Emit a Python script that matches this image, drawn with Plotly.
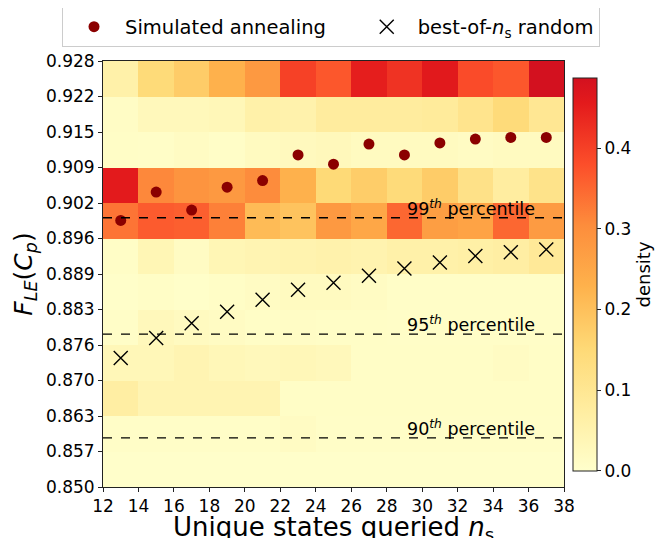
import numpy as np
import plotly.graph_objects as go

# --- data ---
x_edges = [12, 14, 16, 18, 20, 22, 24, 26, 28, 30, 32, 34, 36, 38]
y_edges = [0.850, 0.8565, 0.863, 0.8695, 0.876, 0.8825, 0.889, 0.8955, 0.902, 0.9085, 0.915, 0.9215, 0.928]
y_tick_labels = ["0.850", "0.857", "0.863", "0.870", "0.876", "0.883", "0.889",
                 "0.896", "0.902", "0.909", "0.915", "0.922", "0.928"]
x_ticks = [12, 14, 16, 18, 20, 22, 24, 26, 28, 30, 32, 34, 36, 38]

# density rows, bottom (0.850) to top (0.928), columns 12-14 ... 36-38
density = [
    [0.004, 0.004, 0.004, 0.004, 0.004, 0.004, 0.004, 0.004, 0.004, 0.004, 0.004, 0.004, 0.004],
    [0.008, 0.008, 0.008, 0.008, 0.008, 0.015, 0.008, 0.008, 0.008, 0.008, 0.008, 0.008, 0.008],
    [0.070, 0.045, 0.045, 0.045, 0.045, 0.010, 0.010, 0.010, 0.010, 0.010, 0.010, 0.010, 0.010],
    [0.035, 0.035, 0.045, 0.035, 0.030, 0.035, 0.030, 0.010, 0.010, 0.010, 0.010, 0.015, 0.010],
    [0.008, 0.030, 0.020, 0.015, 0.010, 0.012, 0.010, 0.010, 0.008, 0.008, 0.008, 0.008, 0.008],
    [0.005, 0.010, 0.005, 0.010, 0.015, 0.020, 0.020, 0.015, 0.008, 0.008, 0.008, 0.008, 0.008],
    [0.010, 0.040, 0.015, 0.040, 0.045, 0.050, 0.055, 0.050, 0.060, 0.060, 0.065, 0.070, 0.090],
    [0.335, 0.365, 0.360, 0.320, 0.210, 0.195, 0.280, 0.250, 0.350, 0.270, 0.260, 0.350, 0.275],
    [0.457, 0.310, 0.290, 0.280, 0.305, 0.230, 0.150, 0.175, 0.145, 0.177, 0.120, 0.076, 0.115],
    [0.010, 0.008, 0.015, 0.008, 0.020, 0.025, 0.030, 0.020, 0.020, 0.020, 0.015, 0.020, 0.020],
    [0.012, 0.030, 0.030, 0.035, 0.060, 0.055, 0.080, 0.080, 0.080, 0.085, 0.110, 0.145, 0.100],
    [0.060, 0.146, 0.177, 0.230, 0.280, 0.400, 0.370, 0.450, 0.420, 0.460, 0.385, 0.370, 0.487],
]

n_s = [13, 15, 17, 19, 21, 23, 25, 27, 29, 31, 33, 35, 37]
sim_annealing = [0.8988, 0.9040, 0.9007, 0.9049, 0.9061, 0.9108, 0.9091, 0.9128, 0.9108,
                 0.9130, 0.9137, 0.9140, 0.9140]
best_random = [0.8736, 0.8773, 0.8800, 0.8821, 0.8843, 0.8861, 0.8874, 0.8887, 0.8900,
               0.8911, 0.8923, 0.8930, 0.8935]

percentiles = [0.8993, 0.8780, 0.8590]
percentile_labels = ["99<sup><i>th</i></sup> percentile", "95<sup><i>th</i></sup> percentile",
                     "90<sup><i>th</i></sup> percentile"]

colorbar_ticks = [0.0, 0.1, 0.2, 0.3, 0.4]
zmax = 0.487

# truncated YlOrRd
colorscale = [
    [0.0, "#ffffcc"], [0.156, "#ffeda0"], [0.3125, "#fed976"], [0.469, "#feb24c"],
    [0.625, "#fd8d3c"], [0.781, "#fc4e2a"], [0.9375, "#e31a1c"], [1.0, "#d3111f"],
]

FONT = "DejaVu Sans"
NBSP = "\u00a0"

fig = go.Figure()
fig.add_trace(go.Heatmap(
    x=x_edges, y=y_edges, z=density, zmin=0, zmax=zmax,
    colorscale=colorscale, showscale=True, hoverinfo="skip",
    colorbar=dict(
        x=1.0195, xanchor="left", xref="paper",
        y=0.499, yanchor="middle", len=393, lenmode="pixels",
        thickness=24, thicknessmode="pixels",
        outlinewidth=1, outlinecolor="#222",
        tickvals=colorbar_ticks, ticktext=["0.0", "0.1", "0.2", "0.3", "0.4"],
        ticks="outside", ticklen=4, tickcolor="#222",
        tickfont=dict(size=17, family=FONT, color="black"),
        title=dict(text="density", side="right", font=dict(size=18, family=FONT, color="black")),
        xpad=0, ypad=0,
    ),
))

fig.add_trace(go.Scatter(
    x=n_s, y=sim_annealing, mode="markers", name="Simulated annealing" + NBSP * 4,
    marker=dict(color="#8b0000", size=11, symbol="circle"),
))
fig.add_trace(go.Scatter(
    x=n_s, y=best_random, mode="markers", name="best-of-<i>n</i><sub>s</sub> random",
    marker=dict(color="black", size=14, symbol="x-thin-open", line=dict(color="black", width=1.4)),
))

for yv, lab in zip(percentiles, percentile_labels):
    fig.add_shape(type="line", xref="paper", x0=0, x1=1, yref="y", y0=yv, y1=yv,
                  line=dict(color="black", width=1.3, dash="dash"))
    fig.add_annotation(x=36.45, y=yv, xref="x", yref="y", text=lab, showarrow=False,
                       xanchor="right", yanchor="bottom", yshift=-3,
                       font=dict(size=17.5, family=FONT, color="black"))

# x-axis title placed as an annotation for precise vertical placement
fig.add_annotation(x=0.5, y=-0.055, xref="paper", yref="paper",
                   text="Unique states queried <i>n</i><sub>s</sub>", showarrow=False,
                   xanchor="center", yanchor="top", font=dict(size=26, family=FONT, color="black"))

fig.update_layout(
    width=667, height=538,
    margin=dict(l=95, r=111, t=53, b=59, autoexpand=False),
    paper_bgcolor="white", plot_bgcolor="white",
    font=dict(family=FONT, color="black"),
    showlegend=True,
    legend=dict(
        orientation="h", x=-0.0889, xanchor="left", y=1.128, yanchor="top",
        bordercolor="#cccccc", borderwidth=1, bgcolor="white",
        font=dict(size=19.5, family=FONT, color="black"),
        itemwidth=52,
    ),
    xaxis=dict(
        range=[12, 38], tickvals=x_ticks, ticks="outside", ticklen=4, tickcolor="#222",
        tickfont=dict(size=17, family=FONT), showgrid=False, zeroline=False,
        showline=True, linecolor="#222", linewidth=1, mirror=True,
    ),
    yaxis=dict(
        range=[0.850, 0.928], tickvals=y_edges, ticktext=y_tick_labels, ticks="outside",
        ticklen=4, tickcolor="#222", tickfont=dict(size=17, family=FONT), showgrid=False,
        zeroline=False, showline=True, linecolor="#222", linewidth=1, mirror=True,
        title=dict(text="<i>F</i><sub><i>LE</i></sub>(<i>C</i><sub><i>p</i></sub>)", font=dict(size=25, family=FONT), standoff=6),
    ),
)

fig.write_html("out.html")
